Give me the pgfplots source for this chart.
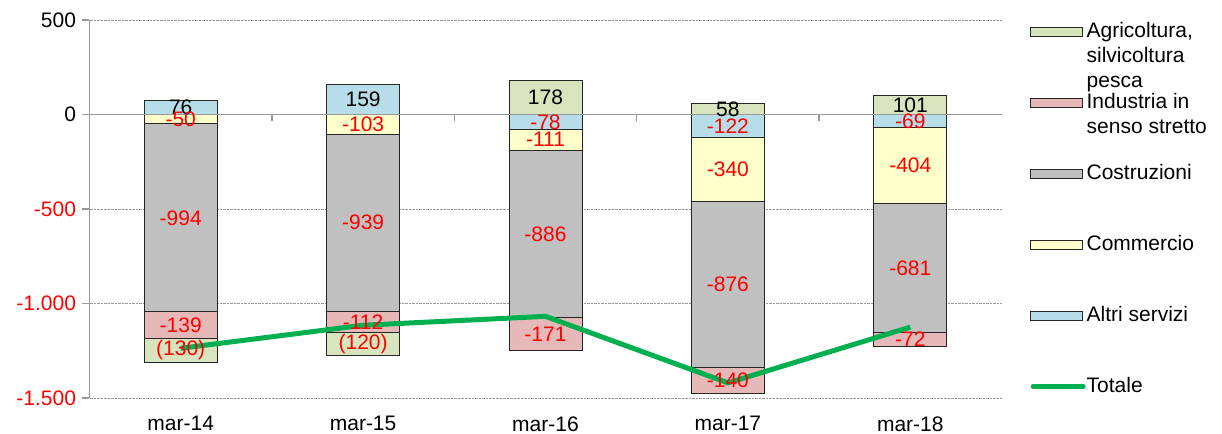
\documentclass[border=0pt]{standalone}
\usepackage{pgfplots}
\pgfplotsset{compat=1.18}
\usepackage{fontspec}
\setmainfont{Liberation Sans}
\definecolor{cAgri}{HTML}{D7E4BD}
\definecolor{cInd}{HTML}{E6B9B8}
\definecolor{cCos}{HTML}{C0C0C0}
\definecolor{cCom}{HTML}{FFFFCC}
\definecolor{cAlt}{HTML}{B7DEE8}
\definecolor{cTot}{HTML}{00B050}
\definecolor{cAx}{HTML}{989898}
\newcommand\fs{\fontsize{21}{25}\selectfont}
\newcommand\lgt[1]{\raisebox{27pt}[68pt][0pt]{\raisebox{0pt}[41pt][27pt]{\begin{tabular}[t]{@{}l@{}}#1\end{tabular}}}}
\pgfplotsset{
  base/.style={
    width=912pt, height=378pt, scale only axis,
    xmin=-0.5, xmax=4.5, ymin=-1500, ymax=500,
    anchor=south west, at={(0,0)},
  },
  barimg/.style={legend image code/.code={\draw[fill=#1, draw=black!85, line width=0.9pt] (0pt,-4.5pt) rectangle (52pt,4.5pt);}},
}
\begin{document}
\begin{tikzpicture}[font=\fs]
\begin{axis}[base,
  ybar stacked, bar width=73pt,
  axis line style={draw=none},
  xtick={0,1,2,3,4},
  xticklabels={mar-14,mar-15,mar-16,mar-17,mar-18},
  xticklabel style={font=\fs, yshift=-15pt},
  ytick={-1500,-1000,-500,500},
  yticklabels={},
  major tick length=0pt,
  ymajorgrids, grid style={cAx, densely dotted, line width=0.8pt},
  every axis plot/.append style={draw=black!85, line width=0.9pt},
]
\addplot[fill=cAlt] coordinates {(0,76) (1,159) (2,-78) (3,-122) (4,-69)};
\addplot[fill=cCom] coordinates {(0,-50) (1,-103) (2,-111) (3,-340) (4,-404)};
\addplot[fill=cCos] coordinates {(0,-994) (1,-939) (2,-886) (3,-876) (4,-681)};
\addplot[fill=cInd] coordinates {(0,-139) (1,-112) (2,-171) (3,-140) (4,-72)};
\addplot[fill=cAgri] coordinates {(0,-130) (1,-120) (2,178) (3,58) (4,101)};
\end{axis}
\begin{axis}[base,
  axis x line*=middle, axis y line*=left,
  axis line style={cAx, line width=1.5pt},
  hide obscured y ticks=false,
  xtick={0.5,1.5,2.5,3.5}, xticklabels={},
  ytick={-1500,-1000,-500,0,500},
  yticklabels={{\color{red}-1.500},{\color{red}-1.000},{\color{red}-500},0\hspace{7pt},500\hspace{7pt}},
  yticklabel style={font=\fs, xshift=-3pt},
  tick align=outside, major tick length=7pt,
  tick style={cAx, line width=1.5pt},
  clip=false,
  legend style={at={(1,1)}, anchor=north west, xshift=28.5pt, yshift=24.5pt,
    draw=none, fill=none, inner sep=0pt, font=\fs, row sep=-0.5pt,
    nodes={inner sep=1pt},
    /tikz/every even column/.append style={column sep=4pt}},
  legend cell align=left,
]
\addlegendimage{barimg=cAgri}
\addlegendentry{\lgt{Agricoltura,\\silvicoltura\\pesca}}
\addlegendimage{barimg=cInd}
\addlegendentry{\lgt{Industria in\\senso stretto}}
\addlegendimage{barimg=cCos}
\addlegendentry{\lgt{Costruzioni}}
\addlegendimage{barimg=cCom}
\addlegendentry{\lgt{Commercio}}
\addlegendimage{barimg=cAlt}
\addlegendentry{\lgt{Altri servizi}}
\addplot[cTot, line width=5pt, mark=none,
  legend image code/.code={\draw[cTot, line width=5pt, line cap=round] (2.5pt,0pt) -- (52.5pt,0pt);}]
  coordinates {(0,-1237) (1,-1115) (2,-1068) (3,-1420) (4,-1125)};
\addlegendentry{\lgt{Totale}}
\addplot[forget plot, only marks, mark=*, mark size=0pt, mark options={draw=none, fill=none},
  nodes near coords, point meta=explicit symbolic,
  every node near coord/.style={anchor=center, text=black, font=\fs, inner sep=0pt}]
  table[meta=l] {
x y l
0 38 76
1 79.5 159
2 89 178
3 29 58
4 50.5 101
};
\addplot[forget plot, only marks, mark=*, mark size=0pt, mark options={draw=none, fill=none},
  nodes near coords, point meta=explicit symbolic,
  every node near coord/.style={anchor=center, text=red, font=\fs, inner sep=0pt}]
  table[meta=l] {
x y l
0 -25 -50
0 -547 -994
0 -1113.5 -139
0 -1248 (130)
1 -51.5 -103
1 -572.5 -939
1 -1098 -112
1 -1214 (120)
2 -39 -78
2 -133.5 -111
2 -632 -886
2 -1160.5 -171
3 -61 -122
3 -292 -340
3 -900 -876
3 -1408 -140
4 -34.5 -69
4 -271 -404
4 -813.5 -681
4 -1190 -72
};
\end{axis}
\pgfresetboundingbox
\path[use as bounding box] (-89.5pt,-35.7pt) rectangle (1132.5pt,398pt);
\end{tikzpicture}
\end{document}
